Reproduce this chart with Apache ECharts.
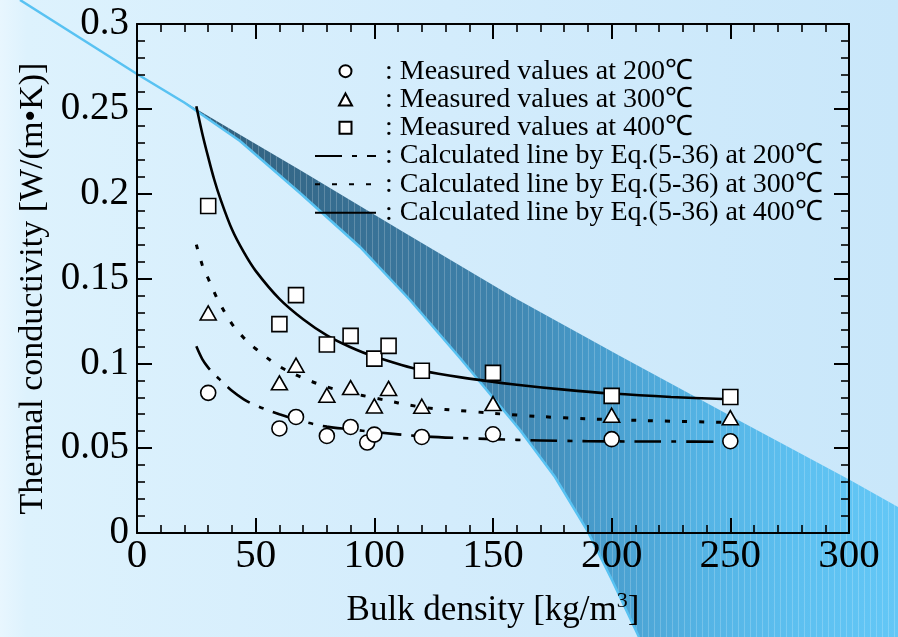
<!DOCTYPE html>
<html>
<head>
<meta charset="utf-8">
<script src="https://cdn.jsdelivr.net/npm/echarts@6/dist/echarts.min.js"></script>
<style>
  html, body { margin: 0; padding: 0; background: #d6edfc; }
  #chart { width: 898px; height: 637px; }
</style>
</head>
<body>
<div id="chart"></div>
<script>
// ---- Measured thermal conductivity, W/(m·K), versus bulk density, kg/m3 ----
const densityAt200 = [30, 60, 67, 80, 90, 97, 100, 120, 150, 200, 250];
const measuredAt200 = [0.0826, 0.0616, 0.0684, 0.0572, 0.0625, 0.0533, 0.0580, 0.0566, 0.0582, 0.0553, 0.0541];

const densityAt300 = [30, 60, 67, 80, 90, 100, 106, 120, 150, 200, 250];
const measuredAt300 = [0.1297, 0.0885, 0.0989, 0.0812, 0.0857, 0.0749, 0.0852, 0.0747, 0.0763, 0.0694, 0.0680];

const densityAt400 = [30, 60, 67, 80, 90, 100, 106, 120, 150, 200, 250];
const measuredAt400 = [0.1927, 0.1231, 0.1402, 0.1111, 0.1162, 0.1028, 0.1103, 0.0956, 0.0944, 0.0808, 0.0802];

// ---- Calculated lines by Eq.(5-36) ----
const densityCalc = [25, 27.5, 30, 32.5, 35, 40, 45, 50, 60, 70, 80, 90, 100, 120, 140, 160, 180, 200, 225, 250];
const calcAt200 = [0.1100, 0.1025, 0.0975, 0.0937, 0.0903, 0.0838, 0.0788, 0.0752, 0.0700, 0.0657, 0.0627, 0.0611, 0.0595, 0.0570, 0.0558, 0.0549, 0.0543, 0.0540, 0.0539, 0.0537];
const calcAt300 = [0.1700, 0.1580, 0.1500, 0.1420, 0.1350, 0.1233, 0.1150, 0.1086, 0.0982, 0.0914, 0.0861, 0.0826, 0.0796, 0.0742, 0.0717, 0.0695, 0.0679, 0.0668, 0.0659, 0.0651];
const calcAt400 = [0.2515, 0.2355, 0.2215, 0.2085, 0.1975, 0.1790, 0.1655, 0.1545, 0.1380, 0.1260, 0.1165, 0.1095, 0.1040, 0.0958, 0.0910, 0.0874, 0.0845, 0.0822, 0.0802, 0.0788];

// ---- Names and tick labels ----
const seriesNames = [
  'Measured values at 200℃',
  'Measured values at 300℃',
  'Measured values at 400℃',
  'Calculated line by Eq.(5-36) at 200℃',
  'Calculated line by Eq.(5-36) at 300℃',
  'Calculated line by Eq.(5-36) at 400℃'
];
const xTickLabels = ['0', '50', '100', '150', '200', '250', '300'];
const yTickLabels = ['0', '0.05', '0.1', '0.15', '0.2', '0.25', '0.3'];

const FONT = '"Liberation Serif", "Times New Roman", serif';

const pairs = (xs, ys) => xs.map((x, i) => [x, ys[i]]);

// ---- Slide backdrop: diagonal shaded band with a light edge line (pixel geometry) ----
const bandUpper = [[137, 74], [220, 123], [300, 170], [400, 230], [513, 297], [620, 356], [740, 421], [850, 480], [898, 507]];
const bandLower = [[137, 74], [185, 103], [240, 141], [300, 193], [360, 247], [410, 300], [460, 358], [520, 430], [555, 477], [587, 530], [612, 580], [639, 637]];
const bandPolygon = bandUpper.concat([[898, 637]], bandLower.slice().reverse());
const edgeLine = [[20, 0]].concat(bandLower);

const stripe = document.createElement('canvas');
stripe.width = 6; stripe.height = 8;
const sctx = stripe.getContext('2d');
sctx.fillStyle = 'rgba(255,255,255,0.2)';
sctx.fillRect(0, 0, 1, 8);

// Legend icons for the marker series: glyph centred in the wide (61 x 13) icon box
const legendIcons = {
  circle: 'path://M0,0 M61,13 M30.5,0.5 A6,6 0 1 1 30.49,0.5 Z',
  triangle: 'path://M0,0 M61,13 M30.5,0.5 L37,12.5 L24,12.5 Z',
  rect: 'path://M0,0 M61,13 M24.5,0.5 L36.5,0.5 L36.5,12.5 L24.5,12.5 Z'
};

const chart = echarts.init(document.getElementById('chart'));

const frameAxis = {
  type: 'value',
  axisLine: { show: true, onZero: false, lineStyle: { color: '#000', width: 2 } },
  axisTick: { show: true, inside: true, length: 15, lineStyle: { color: '#000', width: 2 } },
  minorTick: { show: true, splitNumber: 5, length: 8, lineStyle: { color: '#000', width: 1.6 } },
  splitLine: { show: false },
  minorSplitLine: { show: false },
  z: 3
};

const lineBase = {
  type: 'line',
  smooth: 0.35,
  symbol: 'none',
  z: 3,
  emphasis: { disabled: true }
};
const markerBase = {
  type: 'scatter',
  symbolSize: 15,
  symbolKeepAspect: true,
  z: 5,
  itemStyle: { color: '#fff', borderColor: '#000', borderWidth: 1.6, opacity: 1 },
  emphasis: { disabled: true }
};

chart.setOption({
  animation: false,
  backgroundColor: 'transparent',
  grid: { left: 137, right: 49, top: 24, bottom: 104, containLabel: false },
  graphic: [
    {
      type: 'rect', z: -30, silent: true,
      shape: { x: 0, y: 0, width: 898, height: 637 },
      style: {
        fill: new echarts.graphic.LinearGradient(0, 0, 1, 0, [
          { offset: 0, color: '#e8f6fe' },
          { offset: 0.03, color: '#ddf2fd' },
          { offset: 0.5, color: '#d3ecfc' },
          { offset: 1, color: '#c9e7fa' }
        ])
      }
    },
    {
      type: 'polygon', z: -20, silent: true,
      shape: { points: bandPolygon },
      style: {
        fill: new echarts.graphic.LinearGradient(0, 0, 1, 0, [
          { offset: 0, color: '#2f5b75' },
          { offset: 0.21, color: '#35698a' },
          { offset: 0.35, color: '#3a769c' },
          { offset: 0.48, color: '#3f84ae' },
          { offset: 0.61, color: '#489dcd' },
          { offset: 0.74, color: '#54b3e4' },
          { offset: 0.87, color: '#5dc0f0' },
          { offset: 1, color: '#63c7f6' }
        ])
      }
    },
    {
      type: 'polygon', z: -19, silent: true,
      shape: { points: bandPolygon },
      style: { fill: { image: stripe, repeat: 'repeat' } }
    },
    {
      type: 'polyline', z: -18, silent: true,
      shape: { points: edgeLine },
      style: { stroke: '#58c2f2', lineWidth: 2.5, fill: null }
    }
  ],
  legend: {
    orient: 'vertical',
    left: 314,
    top: 57,
    itemWidth: 61,
    itemHeight: 13,
    itemGap: 0,
    padding: 0,
    selectedMode: false,
    symbolKeepAspect: true,
    data: [
      { name: seriesNames[0], icon: legendIcons.circle },
      { name: seriesNames[1], icon: legendIcons.triangle },
      { name: seriesNames[2], icon: legendIcons.rect },
      { name: seriesNames[3], itemStyle: { opacity: 0 } },
      { name: seriesNames[4], itemStyle: { opacity: 0 } },
      { name: seriesNames[5], itemStyle: { opacity: 0 } }
    ],
    formatter: name => ': ' + name,
    textStyle: { fontFamily: FONT, fontSize: 28, color: '#000', lineHeight: 28.3, padding: [0, 0, 0, 4] }
  },
  xAxis: [
    Object.assign({}, frameAxis, {
      position: 'bottom', min: 0, max: 300, interval: 50,
      name: 'Bulk density [kg/m{sup|3}]',
      nameLocation: 'middle', nameGap: 57,
      nameTextStyle: {
        fontFamily: FONT, fontSize: 35, color: '#000', lineHeight: 42,
        rich: { sup: { fontFamily: FONT, fontSize: 22, color: '#000', verticalAlign: 'top', lineHeight: 42, padding: [0, 0, 16, 0] } }
      },
      axisLabel: {
        fontFamily: FONT, fontSize: 41, color: '#000', margin: 3,
        formatter: v => xTickLabels[Math.round(v / 50)]
      }
    }),
    Object.assign({}, frameAxis, {
      position: 'top', min: 0, max: 300, interval: 50,
      axisLabel: { show: false }
    })
  ],
  yAxis: [
    Object.assign({}, frameAxis, {
      position: 'left', min: 0, max: 0.3, interval: 0.05,
      name: 'Thermal conductivity [W/(m•K)]',
      nameLocation: 'middle', nameGap: 86,
      nameTextStyle: { fontFamily: FONT, fontSize: 34, color: '#000', padding: [0, 20, 0, 0] },
      axisLabel: {
        fontFamily: FONT, fontSize: 39, color: '#000', margin: 8,
        formatter: v => yTickLabels[Math.round(v / 0.05)]
      }
    }),
    Object.assign({}, frameAxis, {
      position: 'right', min: 0, max: 0.3, interval: 0.05,
      axisLabel: { show: false }
    })
  ],
  series: [
    Object.assign({}, markerBase, { name: seriesNames[0], symbol: 'circle', data: pairs(densityAt200, measuredAt200) }),
    Object.assign({}, markerBase, { name: seriesNames[1], symbol: 'triangle', symbolSize: [16, 14], symbolKeepAspect: false, data: pairs(densityAt300, measuredAt300) }),
    Object.assign({}, markerBase, { name: seriesNames[2], symbol: 'rect', data: pairs(densityAt400, measuredAt400) }),
    Object.assign({}, lineBase, {
      name: seriesNames[3], data: pairs(densityCalc, calcAt200),
      lineStyle: { color: '#000', width: 2.6, type: [27, 10, 5, 10] }, itemStyle: { color: '#000' }
    }),
    Object.assign({}, lineBase, {
      name: seriesNames[4], data: pairs(densityCalc, calcAt300),
      lineStyle: { color: '#000', width: 3, type: [5, 12] }, itemStyle: { color: '#000' }
    }),
    Object.assign({}, lineBase, {
      name: seriesNames[5], data: pairs(densityCalc, calcAt400),
      lineStyle: { color: '#000', width: 2.6, type: 'solid' }, itemStyle: { color: '#000' }
    })
  ]
});
</script>
</body>
</html>
